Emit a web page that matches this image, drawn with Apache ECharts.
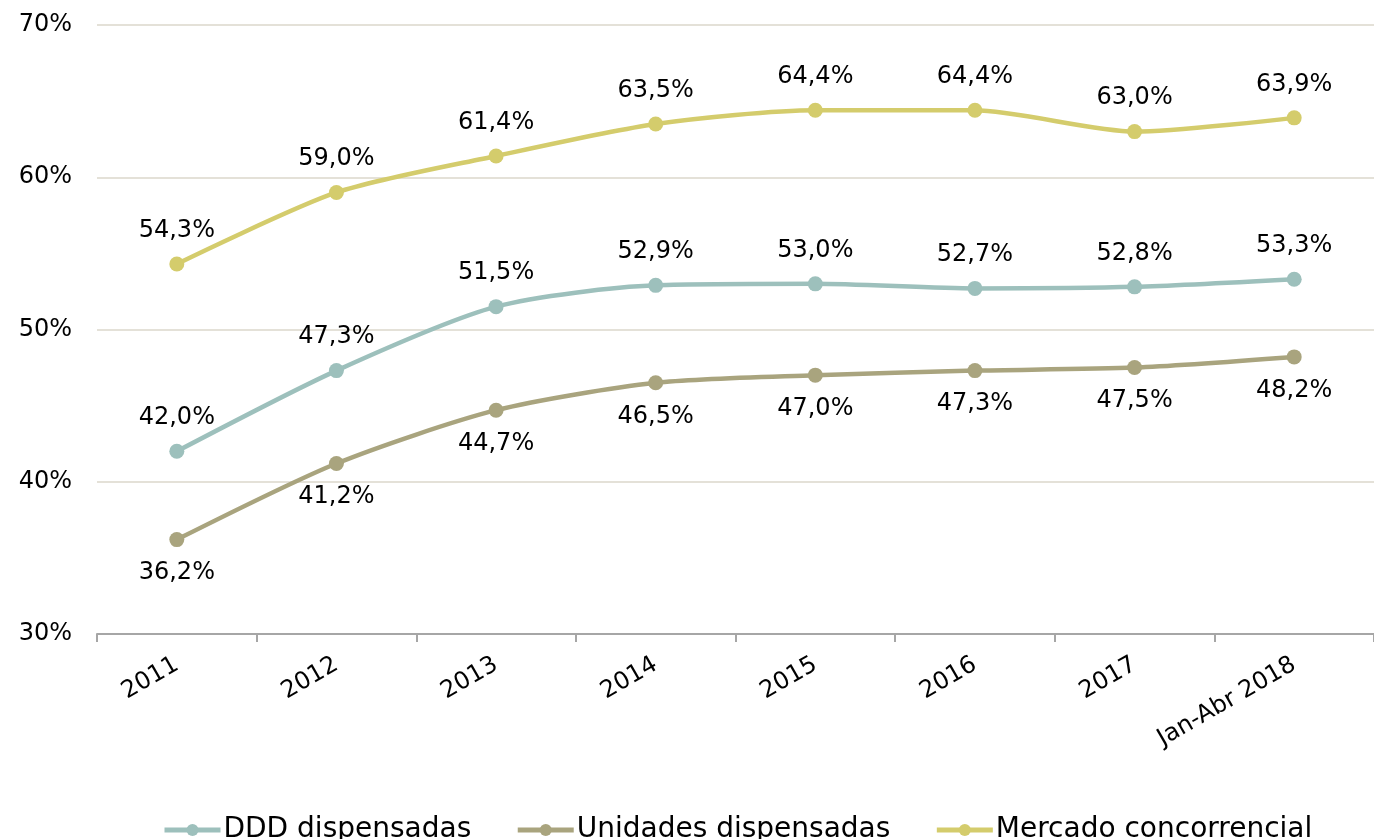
<!DOCTYPE html>
<html>
<head>
<meta charset="utf-8">
<script src="https://cdn.jsdelivr.net/npm/echarts@6/dist/echarts.min.js"></script>
<style>
  html, body { margin: 0; padding: 0; background: #fff; }
  #chart { width: 1374px; height: 839px; }
</style>
</head>
<body>
<div id="chart"></div>
<script>
// categorias do eixo x
const categorias = ['2011', '2012', '2013', '2014', '2015', '2016', '2017', 'Jan-Abr 2018']
// valores em %
const dddDispensadas = [42.0, 47.3, 51.5, 52.9, 53.0, 52.7, 52.8, 53.3]
const unidadesDispensadas = [36.2, 41.2, 44.7, 46.5, 47.0, 47.3, 47.5, 48.2]
const mercadoConcorrencial = [54.3, 59.0, 61.4, 63.5, 64.4, 64.4, 63.0, 63.9]
const nomes = ['DDD dispensadas', 'Unidades dispensadas', 'Mercado concorrencial']
const cores = ['#9dc0bc', '#a9a47e', '#d4cc6c']

const fonte = '"DejaVu Sans", sans-serif'

let myChart = echarts.init(document.getElementById('chart'))

function serie(nome, dados, cor, pos) {
  return {
    name: nome,
    type: 'line',
    data: dados,
    smooth: 0.25,
    symbol: 'circle',
    symbolSize: 15,
    lineStyle: { width: 4.5, color: cor },
    itemStyle: { color: cor },
    label: {
      show: true,
      position: pos,
      distance: 14,
      color: '#000',
      fontSize: 24,
      fontFamily: fonte,
      formatter: (p) => p.value.toFixed(1).replace('.', ',') + '%',
    },
  }
}

let option = {
  animation: false,
  grid: { left: 97, right: -8, top: 25, bottom: 205 },
  xAxis: {
    type: 'category',
    data: categorias,
    boundaryGap: true,
    axisLine: { lineStyle: { color: '#a6a6a6', width: 2 } },
    axisTick: { show: true, length: 8, lineStyle: { color: '#a6a6a6', width: 2 } },
    axisLabel: {
      rotate: 30,
      margin: 29,
      color: '#000',
      fontSize: 24,
      fontFamily: fonte,
      interval: 0,
    },
  },
  yAxis: {
    type: 'value',
    min: 30,
    max: 70,
    interval: 10,
    axisLine: { show: false },
    axisTick: { show: false },
    splitLine: { lineStyle: { color: '#e4e1d8', width: 2 } },
    axisLabel: {
      formatter: '{value}%',
      margin: 25,
      color: '#000',
      fontSize: 24,
      fontFamily: fonte,
    },
  },
  legend: {
    bottom: -10,
    left: 157,
    itemGap: 44,
    itemWidth: 56,
    itemHeight: 15,
    lineStyle: { width: 5 },
    data: nomes,
    textStyle: { fontSize: 28, color: '#000', fontFamily: fonte, padding: [0, 0, 0, -2] },
  },
  series: [
    serie(nomes[0], dddDispensadas, cores[0], 'top'),
    serie(nomes[1], unidadesDispensadas, cores[1], 'bottom'),
    serie(nomes[2], mercadoConcorrencial, cores[2], 'top'),
  ],
}

myChart.setOption(option)
</script>
</body>
</html>
